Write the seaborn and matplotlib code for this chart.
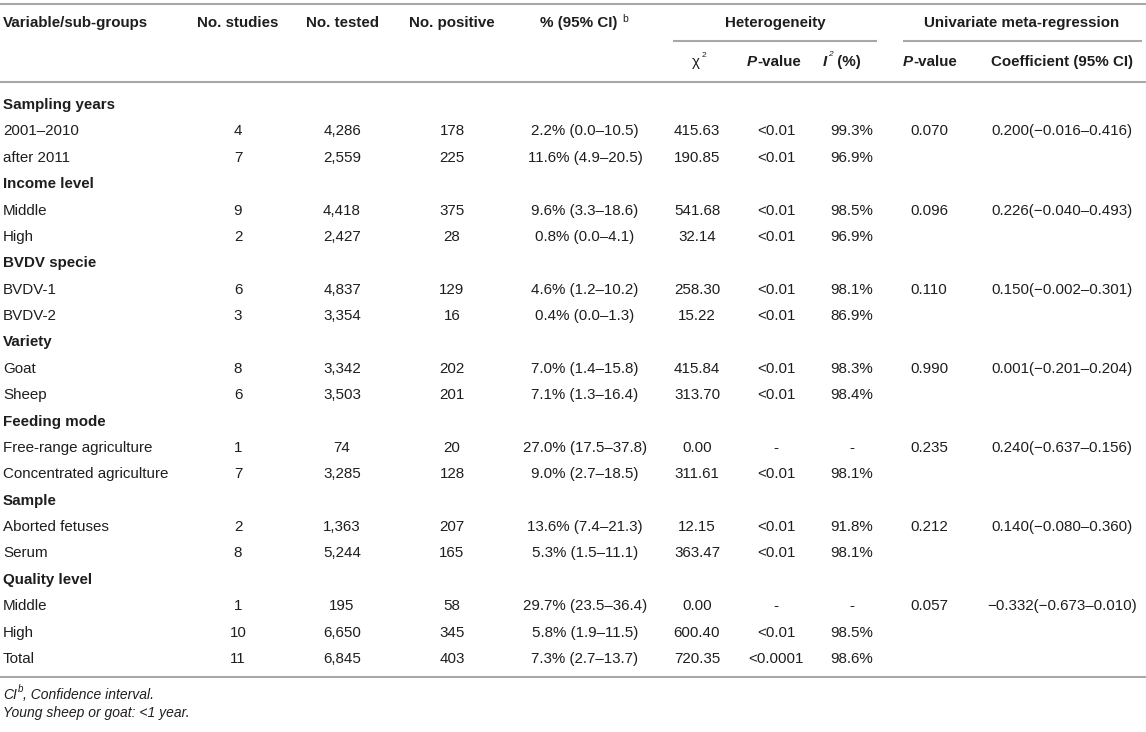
import seaborn as sns
import matplotlib
matplotlib.use("Agg")
import matplotlib.pyplot as plt

# ---- table content ----
labels = ["Sampling years", "2001–2010", "after 2011",
          "Income level", "Middle", "High",
          "BVDV specie", "BVDV-1", "BVDV-2",
          "Variety", "Goat", "Sheep",
          "Feeding mode", "Free-range agriculture", "Concentrated agriculture",
          "Sample", "Aborted fetuses", "Serum",
          "Quality level", "Middle", "High", "Total"]
is_group = [True, False, False, True, False, False, True, False, False,
            True, False, False, True, False, False, True, False, False,
            True, False, False, False]
studies = [None, 4, 7, None, 9, 2, None, 6, 3, None, 8, 6, None, 1, 7,
           None, 2, 8, None, 1, 10, 11]
tested = [None, 4286, 2559, None, 4418, 2427, None, 4837, 3354, None, 3342, 3503,
          None, 74, 3285, None, 1363, 5244, None, 195, 6650, 6845]
positive = [None, 178, 225, None, 375, 28, None, 129, 16, None, 202, 201,
            None, 20, 128, None, 207, 165, None, 58, 345, 403]
pct_ci = ["", "2.2% (0.0–10.5)", "11.6% (4.9–20.5)", "", "9.6% (3.3–18.6)", "0.8% (0.0–4.1)",
          "", "4.6% (1.2–10.2)", "0.4% (0.0–1.3)", "", "7.0% (1.4–15.8)", "7.1% (1.3–16.4)",
          "", "27.0% (17.5–37.8)", "9.0% (2.7–18.5)", "", "13.6% (7.4–21.3)", "5.3% (1.5–11.1)",
          "", "29.7% (23.5–36.4)", "5.8% (1.9–11.5)", "7.3% (2.7–13.7)"]
chi2 = ["", "415.63", "190.85", "", "541.68", "32.14", "", "258.30", "15.22", "",
        "415.84", "313.70", "", "0.00", "311.61", "", "12.15", "363.47", "",
        "0.00", "600.40", "720.35"]
p_het = ["", "<0.01", "<0.01", "", "<0.01", "<0.01", "", "<0.01", "<0.01", "",
         "<0.01", "<0.01", "", "-", "<0.01", "", "<0.01", "<0.01", "",
         "-", "<0.01", "<0.0001"]
i2 = ["", "99.3%", "96.9%", "", "98.5%", "96.9%", "", "98.1%", "86.9%", "",
      "98.3%", "98.4%", "", "-", "98.1%", "", "91.8%", "98.1%", "",
      "-", "98.5%", "98.6%"]
p_meta = ["", "0.070", "", "", "0.096", "", "", "0.110", "", "", "0.990", "",
          "", "0.235", "", "", "0.212", "", "", "0.057", "", ""]
coef = ["", "0.200(−0.016–0.416)", "", "", "0.226(−0.040–0.493)", "", "",
        "0.150(−0.002–0.301)", "", "", "0.001(−0.201–0.204)", "", "",
        "0.240(−0.637–0.156)", "", "", "0.140(−0.080–0.360)", "", "",
        "−0.332(−0.673–0.010)", "", ""]
footnotes = ["Young sheep or goat: <1 year."]

# ---- layout (pixel space) ----
W, H = 1146, 732
col_x = {"studies": 238, "tested": 342, "positive": 452, "pct": 585,
         "chi2": 697, "p_het": 776, "i2": 852, "p_meta": 929, "coef": 1062}
row0, row_step = 105, 26.38
FS = 10.9
TXT = "#1e1e1e"
RULE = "#a8a8a8"

sns.set_theme(style="white")
plt.rcParams["font.family"] = ["Liberation Sans", "DejaVu Sans"]

fig = plt.figure(figsize=(W / 100, H / 100), dpi=100)
ax = fig.add_axes([0, 0, 1, 1])
ax.set_xlim(0, W)
ax.set_ylim(H, 0)
ax.axis("off")


def chain(x, y, parts):
    # run of differently styled pieces; superscripts don't move the baseline
    first_txt, first_kw = parts[0]
    base = ax.text(x, y, first_txt, va="baseline", ha="left", color=TXT, **first_kw)
    prev = base
    for txt, kw in parts[1:]:
        kw = dict(kw)
        if kw.pop("sup", False):
            prev = ax.annotate(txt, xy=(1, 1), xycoords=(prev, base), va="top", ha="left",
                               xytext=(0.5, 3), textcoords="offset points",
                               color=TXT, **kw)
        else:
            prev = ax.annotate(txt, xy=(1, 0), xycoords=(prev, base), va="bottom",
                               ha="left", color=TXT, **kw)
            base = prev
    return prev


bold = dict(fontsize=FS, fontweight="bold")
bold_it = dict(fontsize=FS, fontweight="bold", fontstyle="italic")
ital = dict(fontsize=10, fontstyle="italic")

# rules
ax.hlines([4, 82], 0, W, color=RULE, lw=1.5)
ax.hlines(677, 0, W, color=RULE, lw=1.5)
ax.hlines(41, 673, 877, color=RULE, lw=1.5)
ax.hlines(41, 903, 1142, color=RULE, lw=1.5)

# header row
hy = 23
ax.text(3, hy, "Variable/sub-groups", ha="left", va="center", color=TXT, **bold)
ax.text(col_x["studies"], hy, "No. studies", ha="center", va="center", color=TXT, **bold)
ax.text(col_x["tested"], hy, "No. tested", ha="center", va="center", color=TXT, **bold)
ax.text(col_x["positive"], hy, "No. positive", ha="center", va="center", color=TXT, **bold)
ax.text(579, hy, "% (95% CI)", ha="center", va="center", color=TXT, **bold)
ax.text(622, hy - 4, "b", ha="left", va="center", color=TXT, fontsize=7.5)
ax.text(775, hy, "Heterogeneity", ha="center", va="center", color=TXT, **bold)
ax.text(1022, hy, "Univariate meta-regression", ha="center", va="center", color=TXT, **bold)

# sub-header row
sy = 66
ax.text(692, sy, "χ", ha="left", va="baseline", color=TXT, fontsize=FS)
ax.text(702, sy - 9, "2", ha="left", va="baseline", color=TXT, fontsize=6)
chain(747, sy, [("P", bold_it), ("-value", bold)])
chain(823, sy, [("I", bold_it), ("2", dict(fontsize=6, fontstyle="italic", sup=True)),
                (" (%)", bold)])
chain(903, sy, [("P", bold_it), ("-value", bold)])
ax.text(col_x["coef"], sy, "Coefficient (95% CI)", ha="center", va="baseline",
        color=TXT, **bold)

# body
for i, lab in enumerate(labels):
    y = row0 + i * row_step
    if is_group[i]:
        ax.text(3, y, lab, ha="left", va="center", color=TXT, **bold)
        continue
    ax.text(3, y, lab, ha="left", va="center", color=TXT, fontsize=FS)
    cells = {"studies": str(studies[i]), "tested": f"{tested[i]:,}",
             "positive": str(positive[i]), "pct": pct_ci[i], "chi2": chi2[i],
             "p_het": p_het[i], "i2": i2[i], "p_meta": p_meta[i], "coef": coef[i]}
    for key, val in cells.items():
        if val:
            ax.text(col_x[key], y, val, ha="center", va="center", color=TXT, fontsize=FS)

# footnotes
chain(3, 699, [("CI", ital), ("b", dict(fontsize=7, fontstyle="italic", sup=True)),
               (", Confidence interval.", ital)])
ax.text(3, 717, footnotes[0], ha="left", va="baseline", color=TXT, **ital)

fig.savefig("out.png", dpi=100, facecolor="white")
